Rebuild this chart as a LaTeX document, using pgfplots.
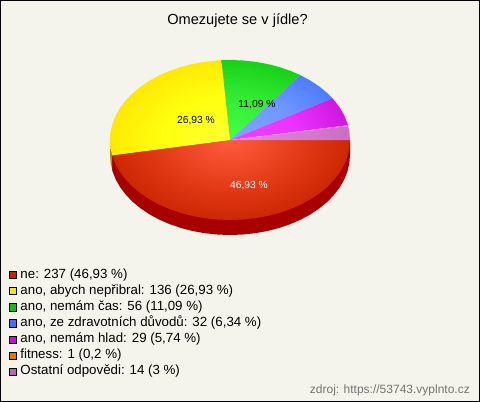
\documentclass[border=0pt]{standalone}
\usepackage{fontspec}
\setmainfont{Liberation Sans}
\usepackage{pgfplots}
\pgfplotsset{compat=1.18}

\definecolor{bgcol}{HTML}{F5F4EC}
% radial gradients of the pie top, stretched over the whole ellipse
\pgfdeclareradialshading{pieRed}{\pgfpoint{0bp}{0bp}}{rgb(0bp)=(1,.36,.24);rgb(16bp)=(.88,.22,.08);rgb(28bp)=(.78,.13,0);rgb(50bp)=(.78,.12,0)}
\pgfdeclareradialshading{pieYellow}{\pgfpoint{0bp}{0bp}}{rgb(0bp)=(1,1,.2);rgb(14bp)=(1,1,.06);rgb(28bp)=(1,.89,0);rgb(50bp)=(1,.88,0)}
\pgfdeclareradialshading{pieGreen}{\pgfpoint{0bp}{0bp}}{rgb(0bp)=(.27,1,.27);rgb(14bp)=(.2,.92,.2);rgb(28bp)=(.06,.79,.06);rgb(50bp)=(.05,.78,.05)}
\pgfdeclareradialshading{pieBlue}{\pgfpoint{0bp}{0bp}}{rgb(0bp)=(.5,.65,1);rgb(14bp)=(.44,.6,1);rgb(28bp)=(.27,.45,1);rgb(50bp)=(.25,.44,1)}
\pgfdeclareradialshading{piePurple}{\pgfpoint{0bp}{0bp}}{rgb(0bp)=(.95,.25,1);rgb(14bp)=(.92,.2,1);rgb(28bp)=(.78,.06,.84);rgb(50bp)=(.76,.05,.8)}
\pgfdeclareradialshading{piePink}{\pgfpoint{0bp}{0bp}}{rgb(0bp)=(.88,.55,.88);rgb(35bp)=(.76,.38,.72);rgb(50bp)=(.76,.38,.72)}

% the inner \shade inherits path picture, so guard against recursion
\def\sliceflag{0}
\pgfplotsset{
  slice/.style={forget plot, draw=none,
    path picture={\ifnum\sliceflag=0 \def\sliceflag{1}\shade[shading=#1] (axis cs:110,60) rectangle (axis cs:350,220);\fi}},
}

\begin{document}
\begin{tikzpicture}
\begin{axis}[
    hide axis, clip=false,
    x=1pt, y=1pt,
    xmin=0, xmax=480, ymin=0, ymax=402,
    y dir=reverse,
    legend image code/.code={\draw[#1, draw=black, line width=.6pt] (0pt,-3.6pt) rectangle (7.4pt,3.6pt);},
    legend style={
        at={(axis cs:9,269)}, anchor=north west,
        draw=none, fill=none, inner sep=0pt, outer sep=0pt,
        font=\fontsize{13.3}{15}\selectfont,
        nodes={inner sep=0pt, text height=9pt, text depth=3pt, anchor=west},
        row sep=4.1pt,
        /tikz/every odd column/.append style={column sep=3.5pt},
    },
    legend cell align=left,
]
\fill[bgcol] (axis cs:0,0) rectangle (axis cs:480,402);
\draw[black, line width=1pt] (axis cs:.5,.5) rectangle (axis cs:479.5,401.5);

% side of the pie
\addplot[forget plot, draw=none, fill={rgb,255:red,168;green,0;blue,0}] coordinates {
  (350,140)(350,155)(349.34,163.36)(347.38,171.63)(344.13,179.72)(339.63,187.54)(333.92,195)(327.08,202.02)
  (319.18,208.53)(310.30,214.45)(300.53,219.72)(290,224.28)(278.81,228.08)(267.08,231.08)(254.95,233.25)
  (242.54,234.56)(230,235)(217.46,234.56)(205.05,233.25)(192.92,231.08)(181.19,228.08)(170,224.28)
  (159.47,219.72)(149.70,214.45)(140.82,208.53)(132.92,202.02)(126.08,195)(120.37,187.54)(115.87,179.72)
  (112.62,171.63)(112.22,170.33)(112.22,155.33)(230,140)
} -- cycle;
\addplot[forget plot, draw=none, fill={rgb,255:red,176;green,144;blue,0}] coordinates {
  (110,140)(110,155)(110.66,163.36)(112.22,170.33)(112.22,155.33)
} -- cycle;

% ne: 237
\addplot[slice=pieRed] coordinates {
  (230,140)
  (350,140)(349.34,148.36)(347.38,156.63)(344.13,164.72)(339.63,172.54)(333.92,180)(327.08,187.02)
  (319.18,193.53)(310.30,199.45)(300.53,204.72)(290,209.28)(278.81,213.08)(267.08,216.08)(254.95,218.25)
  (242.54,219.56)(230,220)(217.46,219.56)(205.05,218.25)(192.92,216.08)(181.19,213.08)(170,209.28)
  (159.47,204.72)(149.70,199.45)(140.82,193.53)(132.92,187.02)(126.08,180)(120.37,172.54)(115.87,164.72)
  (112.62,156.63)(112.22,155.33)
} -- cycle;
% ano, abych nepribral: 136
\addplot[slice=pieYellow] coordinates {
  (230,140)
  (112.22,155.33)(110.66,148.36)(110,140)(110.66,131.64)(112.62,123.37)(115.87,115.28)(120.37,107.46)
  (126.08,100)(132.92,92.98)(140.82,86.47)(149.70,80.55)(159.47,75.28)(170,70.72)(181.19,66.92)
  (192.92,63.92)(205.05,61.75)(217.46,60.44)(221.42,60.2)
} -- cycle;
% ano, nemam cas: 56
\addplot[slice=pieGreen] coordinates {
  (230,140)
  (221.42,60.2)(230,60)(242.54,60.44)(254.95,61.75)(267.08,63.92)(278.81,66.92)(290,70.72)(300.24,75.13)
} -- cycle;
% ze zdravotnich duvodu: 32
\addplot[slice=pieBlue] coordinates {
  (230,140)
  (300.24,75.13)(310.30,80.55)(319.18,86.47)(327.08,92.98)(332.46,98.35)
} -- cycle;
% nemam hlad: 29
\addplot[slice=piePurple] coordinates {
  (230,140)
  (332.46,98.35)(333.92,100)(339.63,107.46)(344.13,115.28)(347.38,123.37)(347.92,125.16)
} -- cycle;
% fitness: 1 -- under a pixel wide, no orange shows in the pie
\addplot[slice=piePink] coordinates {
  (230,140)
  (347.92,125.16)(348.18,126.13)
} -- cycle;
% ostatni: 14
\addplot[slice=piePink] coordinates {
  (230,140)
  (348.18,126.13)(349.34,131.64)(350,140)
} -- cycle;

\node[font=\fontsize{14.6}{16}\selectfont] at (axis cs:237.5,21) {Omezujete se v jídle?};
\node[font=\fontsize{10.3}{12}\selectfont, white] at (axis cs:249,186) {46,93 \%};
\node[font=\fontsize{10.3}{12}\selectfont] at (axis cs:196,121) {26,93 \%};
\node[font=\fontsize{10.3}{12}\selectfont] at (axis cs:257,105) {11,09 \%};
\node[font=\fontsize{12}{14}\selectfont, text=black!55, anchor=east, inner sep=0pt] at (axis cs:470,390) {zdroj: https://53743.vyplnto.cz};

\addlegendimage{fill={rgb,255:red,200;green,32;blue,0}}
\addlegendentry{ne: 237 (46,93 \%)}
\addlegendimage{fill={rgb,255:red,255;green,230;blue,0}}
\addlegendentry{ano, abych nepřibral: 136 (26,93 \%)}
\addlegendimage{fill={rgb,255:red,16;green,192;blue,16}}
\addlegendentry{ano, nemám čas: 56 (11,09 \%)}
\addlegendimage{fill={rgb,255:red,64;green,112;blue,255}}
\addlegendentry{ano, ze zdravotních důvodů: 32 (6,34 \%)}
\addlegendimage{fill={rgb,255:red,200;green,16;blue,208}}
\addlegendentry{ano, nemám hlad: 29 (5,74 \%)}
\addlegendimage{fill={rgb,255:red,232;green,120;blue,0}}
\addlegendentry{fitness: 1 (0,2 \%)}
\addlegendimage{fill={rgb,255:red,192;green,96;blue,184}}
\addlegendentry{Ostatní odpovědi: 14 (3 \%)}
\end{axis}
\end{tikzpicture}
\end{document}
